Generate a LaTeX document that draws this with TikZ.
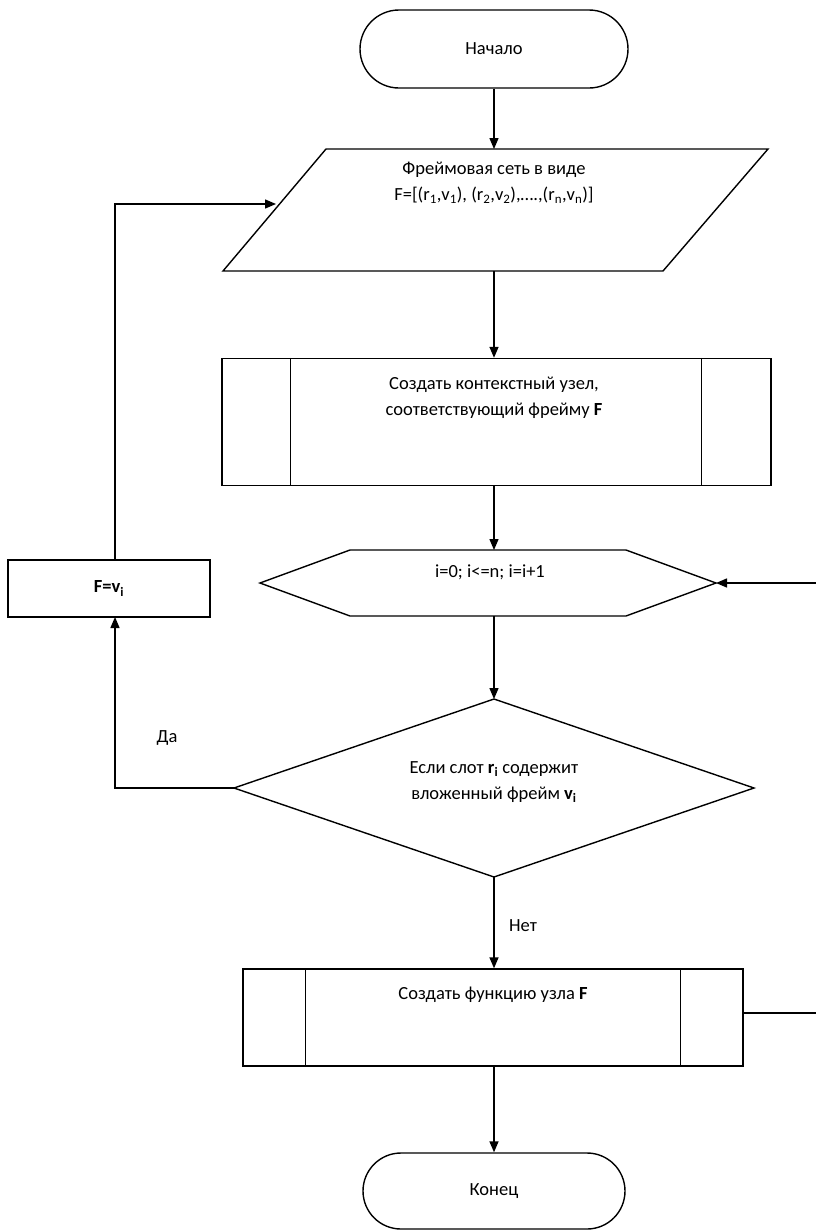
\documentclass[tikz,border=0pt]{standalone}
\usepackage{fontspec}
\setmainfont{Carlito}
\usetikzlibrary{arrows.meta}
\begin{document}
\begin{tikzpicture}[x=1pt,y=-1pt,line width=1.4pt,
  arr/.style={-{Triangle[length=11pt,width=9pt]}},
  txt/.style={font=\fontsize{18.5}{26}\selectfont,align=center,inner sep=0pt},
  term/.style={draw,minimum width=268pt,minimum height=78pt,rounded corners=39pt,inner sep=0pt,font=\fontsize{18.5}{26}\selectfont},
  procbox/.style={draw,inner sep=0pt}]
\useasboundingbox (0,0) rectangle (816,1232);
% start
\node[term] (start) at (494,49) {Начало};
% parallelogram
\coordinate (pTL) at (326,149);
\coordinate (pTR) at (768,149);
\coordinate (pBR) at (663,271);
\coordinate (pBL) at (223,271);
\draw (pTL) -- (pTR) -- (pBR) -- (pBL) -- cycle;
\coordinate (paraN) at (494,149);
\coordinate (paraS) at (494,271);
\coordinate (paraW) at (276,204);
\node[txt] (paratext) at (494,183) {Фреймовая сеть в виде\\F=[(r\textsubscript{1},v\textsubscript{1}), (r\textsubscript{2},v\textsubscript{2}),….,(r\textsubscript{n},v\textsubscript{n})]};
% process 1
\node[procbox,minimum width=549pt,minimum height=127pt] (b1) at (496.5,422) {};
\draw ([xshift=69pt]b1.north west) -- ([xshift=69pt]b1.south west);
\draw ([xshift=-70pt]b1.north east) -- ([xshift=-70pt]b1.south east);
\node[txt] (b1text) at (494,398) {Создать контекстный узел,\\соответствующий фрейму \textbf{F}};
% hexagon
\coordinate (hW) at (260,583);
\coordinate (hTL) at (350,550);
\coordinate (hTR) at (626,550);
\coordinate (hE) at (716,583);
\coordinate (hBR) at (626,616);
\coordinate (hBL) at (350,616);
\draw (hW) -- (hTL) -- (hTR) -- (hE) -- (hBR) -- (hBL) -- cycle;
\coordinate (hexN) at (494,550);
\coordinate (hexS) at (494,616);
\node[txt] (hextext) at (490,572) {i=0; i<=n; i=i+1};
% F = v_i box
\node[procbox,minimum width=202pt,minimum height=57pt,font=\fontsize{18.5}{22}\selectfont] (fv) at (109,588.5) {\textbf{F=v\textsubscript{i}}};
\coordinate (fvS) at (115,617);
\coordinate (fvN) at (115,560);
% diamond
\coordinate (dN) at (494,699);
\coordinate (dW) at (234,788);
\coordinate (dS) at (494,877);
\coordinate (dE) at (754,788);
\draw (dN) -- (dE) -- (dS) -- (dW) -- cycle;
\node[txt] (dtext) at (494,782) {Если слот \textbf{r\textsubscript{i}} содержит\\вложенный фрейм \textbf{v\textsubscript{i}}};
\node[txt] (yes) at (167,738) {Да};
\node[txt] (no) at (523,926) {Нет};
% process 2
\node[procbox,minimum width=500pt,minimum height=97pt] (b2) at (493,1017.5) {};
\draw ([xshift=63pt]b2.north west) -- ([xshift=63pt]b2.south west);
\draw ([xshift=-63pt]b2.north east) -- ([xshift=-63pt]b2.south east);
\node[txt] (b2text) at (493,995) {Создать функцию узла \textbf{F}};
\coordinate (b2E) at (743,1013);
\coordinate (loopA) at (830,1013);
% end
\node[term,minimum width=262pt,minimum height=76pt,rounded corners=38pt] (end) at (494,1191) {Конец};
% connectors
\draw[arr] (start.south) -- (paraN);
\draw[arr] (paraS) -- (paraS |- b1.north);
\draw[arr] (paraS |- b1.south) -- (hexN);
\draw[arr] (hexS) -- (dN);
\draw[arr] (dW) -| (fvS);
\draw[arr] (fvN) |- (paraW);
\draw[arr] (dS) -- (dS |- b2.north);
\draw[arr] (dS |- b2.south) -- (end.north);
\draw[arr] (b2E) -- (loopA) |- (hE);
\end{tikzpicture}
\end{document}
